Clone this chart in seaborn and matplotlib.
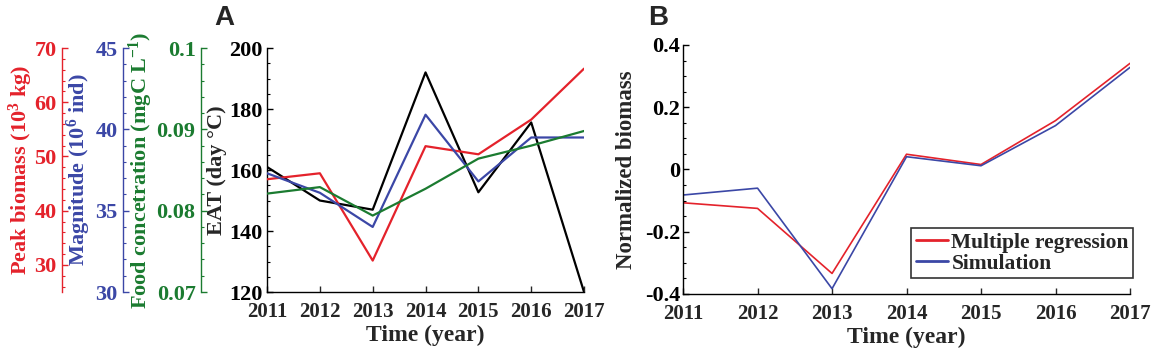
import matplotlib
matplotlib.use('Agg')
import matplotlib.pyplot as plt
from matplotlib.ticker import MultipleLocator
import pandas as pd
import seaborn as sns

# values
years = [2011, 2012, 2013, 2014, 2015, 2016, 2017]
eat = [161.0, 150.0, 147.0, 192.0, 152.7, 175.6, 120.0]            # day degC
peak_biomass = [45.8, 46.9, 30.8, 51.9, 50.4, 56.8, 66.2]           # 10^3 kg
magnitude = [37.3, 36.1, 34.0, 40.9, 36.8, 39.5, 39.5]              # 10^6 ind
food = [0.0821, 0.0829, 0.0794, 0.0827, 0.0864, 0.0880, 0.0898]     # mgC/L
multi_reg = [-0.107, -0.125, -0.334, 0.049, 0.016, 0.157, 0.341]
simulation = [-0.082, -0.060, -0.383, 0.041, 0.012, 0.141, 0.328]

RED = '#e4222b'
BLUE = '#3b47a6'
GREEN = '#1b7b30'

sns.set_style('ticks')
plt.rcParams['font.family'] = ['Liberation Serif', 'DejaVu Serif']
plt.rcParams['font.weight'] = 'bold'
plt.rcParams['axes.labelweight'] = 'bold'
plt.rcParams['mathtext.fontset'] = 'custom'
plt.rcParams['mathtext.rm'] = 'Liberation Serif:bold'
plt.rcParams['mathtext.bf'] = 'Liberation Serif:bold'
plt.rcParams['mathtext.it'] = 'Liberation Serif:bold:italic'
plt.rcParams['axes.unicode_minus'] = False
plt.rcParams['xtick.direction'] = 'in'
plt.rcParams['ytick.direction'] = 'in'

df_a = pd.DataFrame({'year': years, 'eat': eat, 'peak': peak_biomass,
                     'mag': magnitude, 'food': food})
df_b = pd.DataFrame({'year': years * 2,
                     'value': multi_reg + simulation,
                     'series': ['Multiple regression'] * 7 + ['Simulation'] * 7})

fig = plt.figure(figsize=(11.54, 3.57), dpi=100)
axA = fig.add_axes([0.2314, 0.182, 0.2747, 0.6835])
axB = fig.add_axes([0.5919, 0.1765, 0.3873, 0.6975])

YFS = 16     # y tick labels
XFS = 15     # x tick labels
LFS = 16     # axis labels
LW = 1.6


def style_ax(ax, color='black'):
    ax.tick_params(axis='y', which='major', length=4, width=1, labelsize=YFS, colors=color)
    ax.tick_params(axis='y', which='minor', length=2.5, width=0.8, colors=color)
    ax.tick_params(axis='x', which='major', length=4, width=1, labelsize=XFS, pad=7)
    for s in ax.spines.values():
        s.set_linewidth(1.0)
        s.set_color(color)


# ---- panel A ----
sns.lineplot(data=df_a, x='year', y='eat', ax=axA, color='black', lw=LW)
axA.set_ylim(120, 200)
axA.set_xlim(2011, 2017)
axA.yaxis.set_major_locator(MultipleLocator(20))
axA.yaxis.set_minor_locator(MultipleLocator(5))
axA.set_xticks(years)
axA.set_xlabel('Time (year)', fontsize=17, labelpad=2)
axA.set_ylabel('EAT (day \u00b0C)', fontsize=LFS, va='center')
axA.yaxis.set_label_coords(-0.158, 0.5)
sns.despine(ax=axA)
style_ax(axA)

extra = [
    ('peak', RED, (25, 70), 10, 2, -0.647, -0.778, 'Peak biomass (10$^{3}$ kg)'),
    ('mag', BLUE, (30, 45), 5, 1, -0.454, -0.594, 'Magnitude (10$^{6}$ ind)'),
    ('food', GREEN, (0.07, 0.1), 0.01, 0.002, -0.208, -0.397, 'Food concetration (mgC L$^{-1}$)'),
]
for col, color, lim, major, minor, pos, lab_x, label in extra:
    tw = axA.twinx()
    sns.lineplot(data=df_a, x='year', y=col, ax=tw, color=color, lw=LW)
    tw.set_ylim(*lim)
    tw.yaxis.set_major_locator(MultipleLocator(major))
    tw.yaxis.set_minor_locator(MultipleLocator(minor))
    for side in ['top', 'right', 'bottom']:
        tw.spines[side].set_visible(False)
    tw.spines['left'].set_visible(True)
    tw.spines['left'].set_position(('axes', pos))
    tw.yaxis.set_ticks_position('left')
    tw.yaxis.set_label_position('left')
    style_ax(tw, color)
    tw.tick_params(axis='y', which='major', pad=4)
    tw.set_ylabel(label, color=color, fontsize=LFS, va='center')
    tw.yaxis.set_label_coords(lab_x, 0.5)
    if col == 'food':
        tw.yaxis.set_major_formatter(plt.FuncFormatter(
            lambda v, p: '0.1' if abs(v - 0.1) < 1e-9 else '%.2f' % v))

fig.text(0.186, 0.93, 'A', fontsize=20, fontweight='bold', family='Liberation Sans')

# ---- panel B ----
sns.lineplot(data=df_b, x='year', y='value', hue='series', ax=axB,
             palette=[RED, BLUE], lw=1.2)
axB.set_xlim(2011, 2017)
axB.set_ylim(-0.4, 0.4)
axB.set_xticks(years)
axB.yaxis.set_major_locator(MultipleLocator(0.2))
axB.yaxis.set_minor_locator(MultipleLocator(0.05))
axB.yaxis.set_major_formatter(plt.FuncFormatter(lambda v, p: '0' if abs(v) < 1e-9 else '%.1f' % v))
axB.set_xlabel('Time (year)', fontsize=17, labelpad=2)
axB.set_ylabel('Normalized biomass', fontsize=16.5, va='center')
axB.yaxis.set_label_coords(-0.1275, 0.5)
sns.despine(ax=axB)
style_ax(axB)
axB.tick_params(axis='y', pad=2)
leg = axB.legend(loc='lower right', frameon=True, fancybox=False, fontsize=15.5,
                 handlelength=1.5, handletextpad=0.15, borderpad=0.2,
                 labelspacing=0.05, borderaxespad=0,
                 bbox_to_anchor=(1.007, 0.064))
leg.get_frame().set_edgecolor('black')
leg.get_frame().set_linewidth(1.2)
for h in leg.get_lines():
    h.set_linewidth(2.0)

fig.text(0.562, 0.93, 'B', fontsize=20, fontweight='bold', family='Liberation Sans')

fig.savefig('out.png', dpi=100)
